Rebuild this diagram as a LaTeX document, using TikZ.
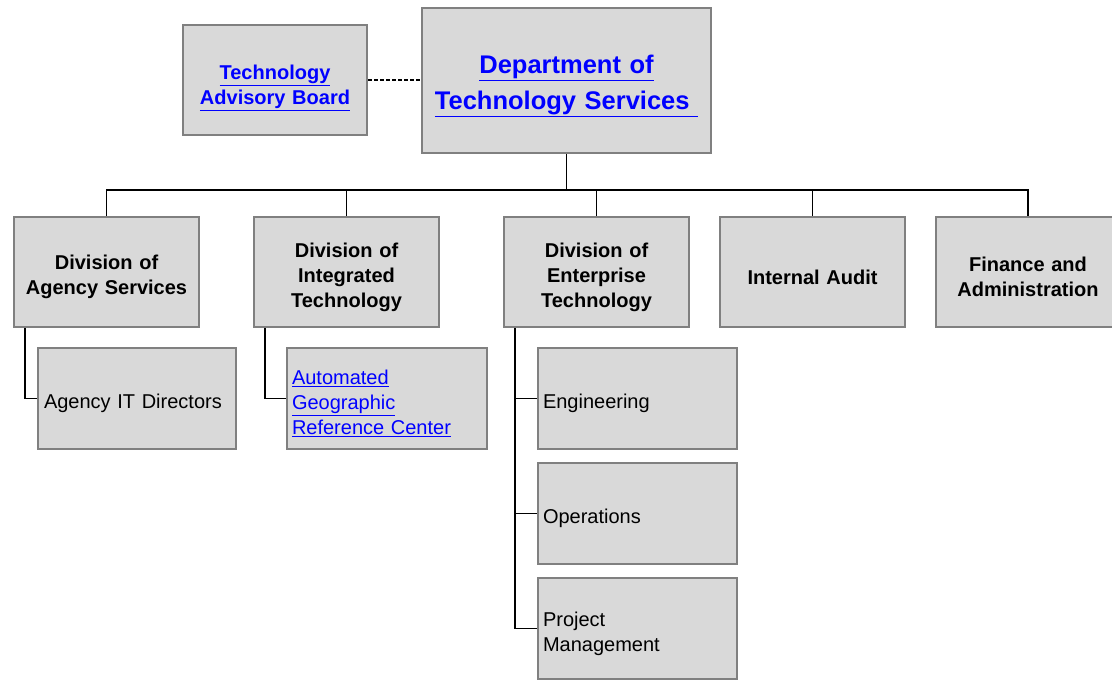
\documentclass[tikz,border=0pt]{standalone}
\usepackage{fontspec}
\setmainfont{Liberation Sans}
\usepackage{tikz}
\definecolor{boxfill}{RGB}{217,217,217}
\definecolor{boxline}{RGB}{128,128,128}
\definecolor{linkblue}{RGB}{0,0,255}
\tikzstyle{unit}=[draw=boxline,fill=boxfill,line width=2pt,inner sep=0pt,align=center,font=\fontsize{20}{25}\selectfont\bfseries,execute at begin node=\rule{0pt}{25pt}]
\tikzstyle{division}=[unit,minimum width=185pt,minimum height=110pt,text width=183pt]
\tikzstyle{office}=[unit,minimum height=101pt,align=left,font=\fontsize{20}{25}\selectfont]
\tikzstyle{link}=[line width=1.8pt]
\newcommand{\lnk}[1]{\textcolor{linkblue}{\underline{#1}}}

\begin{document}
\begin{tikzpicture}[x=1pt,y=-1pt]
\useasboundingbox (0,0) rectangle (1112,680);
\clip (0,0) rectangle (1112,680);

\node[unit,minimum width=184pt,minimum height=110pt,text width=182pt,execute at begin node=\rule{0pt}{31pt}] (tab) at (275, 80) {\lnk{Technology}\\\lnk{Advisory Board}};
\node[unit,minimum width=289pt,minimum height=145pt,text width=287pt,font=\fontsize{25.5}{36}\selectfont\bfseries,execute at begin node=\rule{0pt}{29pt}] (dts) at (566.5, 80.5) {\lnk{Department of}\\\lnk{Technology Services\ }};

\node[division] (agency)  at (106.5, 272) {Division of\\Agency Services};
\node[division] (integr)  at (346.5, 272) {Division of\\Integrated\\Technology};
\node[division] (enterp)  at (596.5, 272) {Division of\\Enterprise\\Technology};
\node[division] (audit)   at (812.5, 272) {Internal Audit};
\node[division] (finance) at (1028, 272)  {Finance and\\Administration};

\node[office,minimum width=198pt,text width=186pt] (itdir) at (137, 398.5)   {Agency IT Directors};
\node[office,minimum width=200pt,text width=190pt] (agrc)  at (387, 398.5)   {\lnk{Automated}\\\lnk{Geographic}\\\lnk{Reference Center}};
\node[office,minimum width=199pt,text width=189pt] (eng)   at (637.5, 398.5) {Engineering};
\node[office,minimum width=199pt,text width=189pt] (ops)   at (637.5, 513.5) {Operations};
\node[office,minimum width=199pt,text width=189pt] (pm)    at (637.5, 628.5) {Project\\Management};

\draw[link,dash pattern=on 4pt off 2pt] (tab.east) -- (tab.east -| dts.west);

\draw[link] (dts.south) -- ++(0,36) coordinate (bus);
\draw[link] (bus) -| (agency.north);
\draw[link] (bus) -| (integr.north);
\draw[link] (bus) -| (enterp.north);
\draw[link] (bus) -| (audit.north);
\draw[link] (bus) -| (finance.north);

\draw[link] ([xshift=12pt]agency.south west) |- (itdir.west);
\draw[link] ([xshift=12pt]integr.south west) |- (agrc.west);
\draw[link] ([xshift=12pt]enterp.south west) |- (eng.west);
\draw[link] ([xshift=12pt]enterp.south west) |- (ops.west);
\draw[link] ([xshift=12pt]enterp.south west) |- (pm.west);

\end{tikzpicture}
\end{document}
